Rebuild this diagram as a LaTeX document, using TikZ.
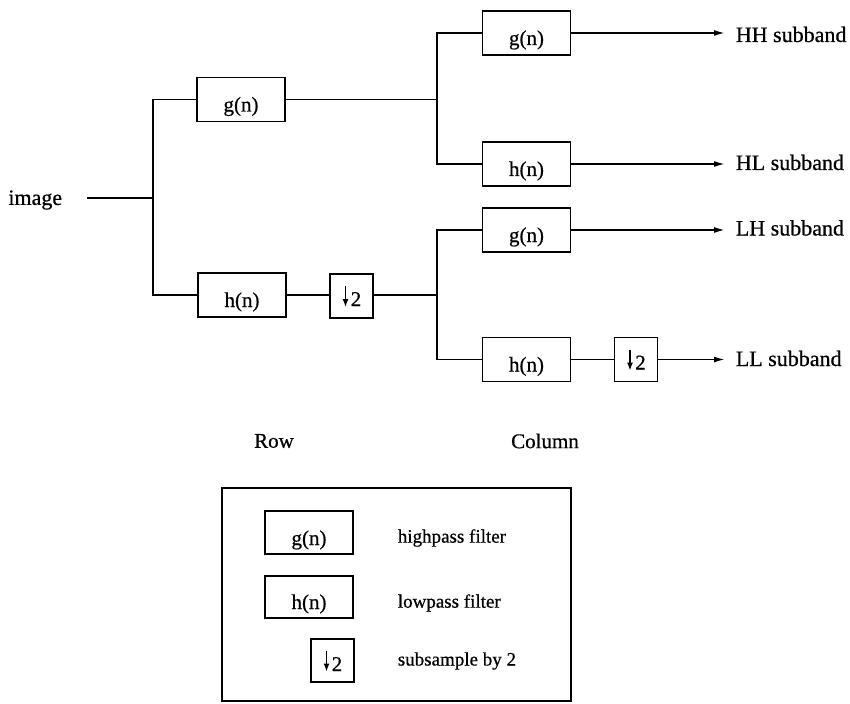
\documentclass[tikz,border=0pt]{standalone}
\usepackage{fontspec}
\setmainfont{Liberation Serif}
\newfontfamily\scanfont{Liberation Serif}[FakeBold=0.6]
\usetikzlibrary{arrows.meta}
\begin{document}
\begin{tikzpicture}[x=1pt,y=-1pt,line width=1.7pt,
  blk/.style={draw,minimum width=88pt,minimum height=44pt,inner sep=0pt,text height=34pt,text depth=10pt,font=\scanfont\fontsize{21}{24}\selectfont},
  dsb/.style={draw,minimum width=43pt,minimum height=44pt,inner sep=0pt,text height=32pt,text depth=12pt,font=\scanfont\fontsize{21}{24}\selectfont},
  subarr/.style={line width=1.2pt,-{Latex[length=8pt,width=6pt]}},
  outlbl/.style={anchor=base west,inner sep=0pt,font=\scanfont\fontsize{22}{26}\selectfont},
  lbl/.style={inner sep=0pt,font=\scanfont\fontsize{21}{24}\selectfont},
  leg/.style={anchor=west,inner sep=0pt,font=\scanfont\fontsize{19}{22}\selectfont},
  arr/.style={-{Latex[length=11pt,width=6pt]}}]
\useasboundingbox (0,0) rectangle (850,703);
% input
\node[anchor=east,inner xsep=24pt,inner ysep=0pt,font=\scanfont\fontsize{22}{26}\selectfont] (img) at (87,200) {image};
\coordinate (in) at (87,198);
\coordinate (jL) at (153,198);
% row stage
\node[blk] (g1) at (241,99.5) {g(n)};
\node[blk] (h1) at (242,295) {h(n)};
\node[dsb] (d1) at (351.5,296) {\hspace{9pt}2};
\draw[subarr] ([shift={(-6,-10)}]d1.center) -- ([shift={(-6,11)}]d1.center);
\coordinate (jR1) at (437,99.5);
\coordinate (jR2) at (437,295);
% column stage
\node[blk] (g2) at (526.5,33) {g(n)};
\node[blk] (h2) at (526.5,164) {h(n)};
\node[blk] (g3) at (526.5,230) {g(n)};
\node[blk] (h3) at (526.5,359.5) {h(n)};
\node[dsb] (d2) at (636,359.5) {\hspace{9pt}2};
\draw[subarr] ([shift={(-6,-10)}]d2.center) -- ([shift={(-6,11)}]d2.center);
% outputs
\coordinate (oHH) at (725,33);
\coordinate (oHL) at (725,164);
\coordinate (oLH) at (725,230);
\coordinate (oLL) at (725,359.5);
\node[outlbl] (HH) at (735,42) {HH subband};
\node[outlbl] (HL) at (735,170) {HL subband};
\node[outlbl] (LH) at (735,235.5) {LH subband};
\node[outlbl] (LL) at (735,366) {LL subband};
% connectors
\draw (in) -- (jL);
\draw (g1.west) -| (jL) |- (h1.west);
\draw (g1.east) -- (jR1);
\draw (h1.east) -- (d1.west |- h1.east);
\draw (d1.east |- jR2) -- (jR2);
\draw (g2.west) -| (jR1) |- (h2.west);
\draw (g3.west) -| (jR2) |- (h3.west);
\draw (h3.east) -- (d2.west);
\draw[arr] (g2.east) -- (oHH);
\draw[arr] (h2.east) -- (oHL);
\draw[arr] (g3.east) -- (oLH);
\draw[arr] (d2.east) -- (oLL);
% stage labels
\node[lbl] (row) at (274,441) {Row};
\node[lbl] (col) at (545,441) {Column};
% legend
\node[draw,minimum width=349pt,minimum height=213pt,inner sep=0pt] (legend) at (396.5,594.5) {};
\node[blk,minimum height=43pt,text height=34pt,text depth=9pt] (lg) at (309,532.5) {g(n)};
\node[blk,minimum height=42pt,text height=33pt,text depth=9pt] (lh) at (309,597) {h(n)};
\node[dsb,minimum height=43pt,text height=32pt,text depth=11pt] (ld) at (332.5,660.5) {\hspace{9pt}2};
\draw[subarr] ([shift={(-6,-10)}]ld.center) -- ([shift={(-6,11)}]ld.center);
\node[leg] (lgt) at (397,538) {highpass filter};
\node[leg] (lht) at (397,603) {lowpass filter};
\node[leg] (ldt) at (397,661) {subsample by 2};
\end{tikzpicture}
\end{document}
